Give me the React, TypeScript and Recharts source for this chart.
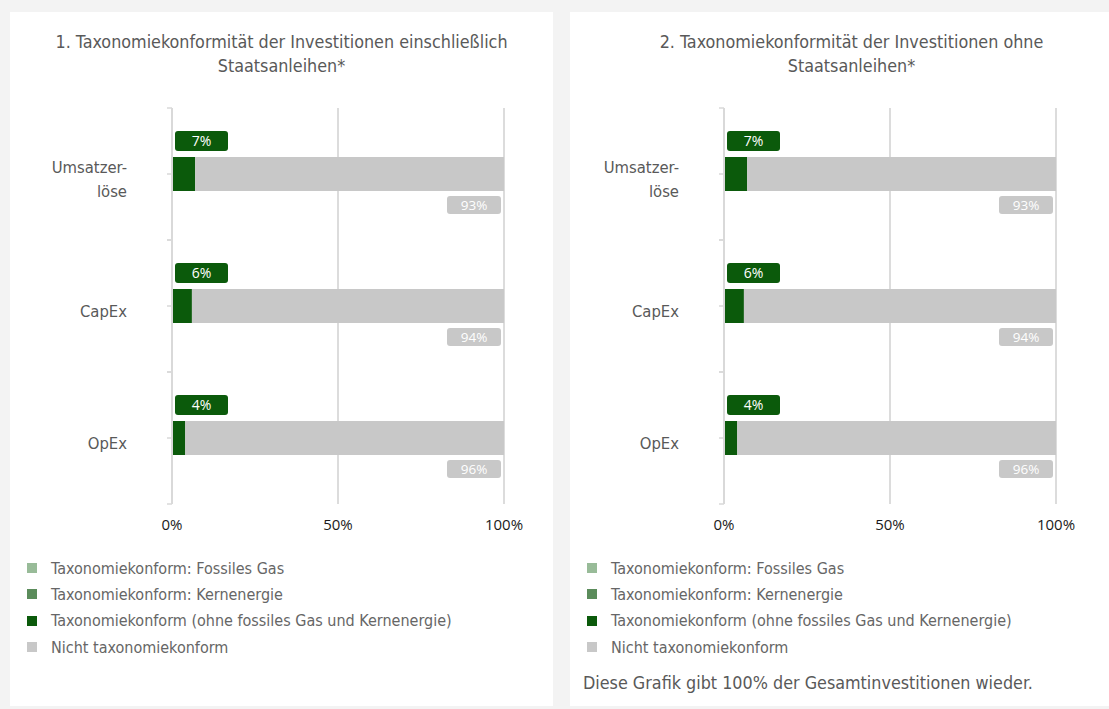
import { Bar, BarChart, CartesianGrid, LabelList, XAxis, YAxis } from 'recharts';

const categories = ['Umsatzer-\nlöse', 'CapEx', 'OpEx'];

// chart 1: incl. sovereign bonds
const fossilGas1 = [0, 0, 0];
const nuclear1 = [0, 0, 0];
const aligned1 = [7, 6, 4];
const notAligned1 = [93, 94, 96];

// chart 2: excl. sovereign bonds
const fossilGas2 = [0, 0, 0];
const nuclear2 = [0, 0, 0];
const aligned2 = [7, 6, 4];
const notAligned2 = [93, 94, 96];

const xTicks = [0, 50, 100];

const legendItems = [
    { label: 'Taxonomiekonform: Fossiles Gas', color: '#98bb98' },
    { label: 'Taxonomiekonform: Kernenergie', color: '#5b8c5b' },
    { label: 'Taxonomiekonform (ohne fossiles Gas und Kernenergie)', color: '#0b5a0b' },
    { label: 'Nicht taxonomiekonform', color: '#c8c8c8' },
];

const FONT = '"Liberation Sans Narrow", "DejaVu Sans Condensed", "Noto Sans", sans-serif';
const NUM_FONT = '"Open Sans", "Noto Sans", sans-serif';
const PLOT_TOP = 96;
const PLOT_H = 396;
const TICK_SIZE = 5;
const TICK_MARGIN = 40;

const buildRows = (gas: number[], nuc: number[], al: number[], nal: number[]) =>
    categories.map((name, i) => ({ name, gas: gas[i], nuc: nuc[i], aligned: al[i], notAligned: nal[i] }));

const CategoryTick = (props: any) => {
    const { x, y, payload } = props;
    const lines: string[] = String(payload.value).split('\n');
    const axisX = x + TICK_SIZE + TICK_MARGIN;
    const half = PLOT_H / categories.length / 2;
    return (
        <g>
            {[y - half, y, y + half].map((ty, i) => (
                <line key={i} x1={axisX - TICK_SIZE} x2={axisX} y1={ty} y2={ty} stroke="#d9d9d9" strokeWidth={1.5} />
            ))}
            <text x={x} textAnchor="end" fill="#595959" fontSize={16.5} fontFamily={FONT}>
                {lines.map((l, i) => (
                    <tspan key={i} x={x} y={y + 11 - (lines.length - 1) * 12 + i * 24}>
                        {l}
                    </tspan>
                ))}
            </text>
        </g>
    );
};

const AlignedLabel = (props: any) => {
    const { x, y, value } = props;
    return (
        <g>
            <rect x={x + 3} y={y - 26} width={53} height={20} rx={3} fill="#0b5a0b" />
            <text x={x + 29.5} y={y - 11} textAnchor="middle" fill="#fff" fontSize={14} fontFamily={NUM_FONT}>
                {value}%
            </text>
        </g>
    );
};

const NotAlignedLabel = (props: any) => {
    const { x, y, width, height, value } = props;
    const right = x + width;
    const bottom = y + height;
    return (
        <g>
            <rect x={right - 57} y={bottom + 5} width={54} height={18} rx={3} fill="#c8c8c8" />
            <text x={right - 30} y={bottom + 19} textAnchor="middle" fill="#fff" fontSize={13.5} fontFamily={NUM_FONT}>
                {value}%
            </text>
        </g>
    );
};

interface PanelProps {
    left: number;
    width: number;
    plotLeft: number;
    titleLines: string[];
    rows: ReturnType<typeof buildRows>;
    footer?: string;
}

const Panel = ({ left, width, plotLeft, titleLines, rows, footer }: PanelProps) => (
    <div style={{ position: 'absolute', left, top: 12, width, height: 694, background: '#fff' }}>
        <div
            style={{
                position: 'absolute',
                top: 18,
                left: 0,
                width,
                textAlign: 'center',
                fontFamily: FONT,
                fontSize: 17.8,
                lineHeight: '24px',
                color: '#595959',
            }}
        >
            {titleLines.map((t) => (
                <div key={t}>{t}</div>
            ))}
        </div>
        <div style={{ position: 'absolute', left: 0, top: 0 }}>
            <BarChart
                width={plotLeft + 332 + 49}
                height={540}
                data={rows}
                layout="vertical"
                margin={{ top: PLOT_TOP, right: 49, bottom: 18, left: 0 }}
                barCategoryGap={0}
            >
                <CartesianGrid horizontal={false} stroke="#dcdcdc" strokeWidth={2} />
                <XAxis
                    type="number"
                    domain={[0, 100]}
                    ticks={xTicks}
                    tickFormatter={(v) => `${v}%`}
                    axisLine={false}
                    tickLine={false}
                    tickMargin={9}
                    height={30}
                    tick={{ fill: '#1a1a1a', fontSize: 15, fontFamily: NUM_FONT }}
                />
                <YAxis
                    type="category"
                    dataKey="name"
                    width={plotLeft}
                    axisLine={{ stroke: '#d9d9d9', strokeWidth: 2 }}
                    tickLine={false}
                    tickSize={TICK_SIZE}
                    tickMargin={TICK_MARGIN}
                    tick={<CategoryTick />}
                />
                <Bar dataKey="gas" stackId="a" fill={legendItems[0].color} barSize={34} isAnimationActive={false} />
                <Bar dataKey="nuc" stackId="a" fill={legendItems[1].color} barSize={34} isAnimationActive={false} />
                <Bar dataKey="aligned" stackId="a" fill={legendItems[2].color} barSize={34} isAnimationActive={false}>
                    <LabelList dataKey="aligned" content={<AlignedLabel />} />
                </Bar>
                <Bar dataKey="notAligned" stackId="a" fill={legendItems[3].color} barSize={34} isAnimationActive={false}>
                    <LabelList dataKey="notAligned" content={<NotAlignedLabel />} />
                </Bar>
            </BarChart>
        </div>
        <div style={{ position: 'absolute', left: 17, top: 543, fontFamily: FONT, fontSize: 16, color: '#666' }}>
            {legendItems.map((it) => (
                <div key={it.label} style={{ display: 'flex', alignItems: 'center', height: 26.3 }}>
                    <span style={{ width: 10, height: 10, background: it.color, marginRight: 14 }} />
                    <span>{it.label}</span>
                </div>
            ))}
        </div>
        {footer && (
            <div style={{ position: 'absolute', left: 13, top: 660, fontFamily: FONT, fontSize: 17.8, color: '#595959' }}>
                {footer}
            </div>
        )}
    </div>
);

export default function App() {
    return (
        <div
            style={{
                position: 'absolute',
                left: 0,
                top: 0,
                width: 1109,
                height: 709,
                background: '#f3f3f3',
                overflow: 'hidden',
            }}
        >
            <Panel
                left={10}
                width={543}
                plotLeft={162}
                titleLines={['1. Taxonomiekonformität der Investitionen einschließlich', 'Staatsanleihen*']}
                rows={buildRows(fossilGas1, nuclear1, aligned1, notAligned1)}
            />
            <Panel
                left={570}
                width={563}
                plotLeft={154}
                titleLines={['2. Taxonomiekonformität der Investitionen ohne', 'Staatsanleihen*']}
                rows={buildRows(fossilGas2, nuclear2, aligned2, notAligned2)}
                footer="Diese Grafik gibt 100% der Gesamtinvestitionen wieder."
            />
        </div>
    );
}
